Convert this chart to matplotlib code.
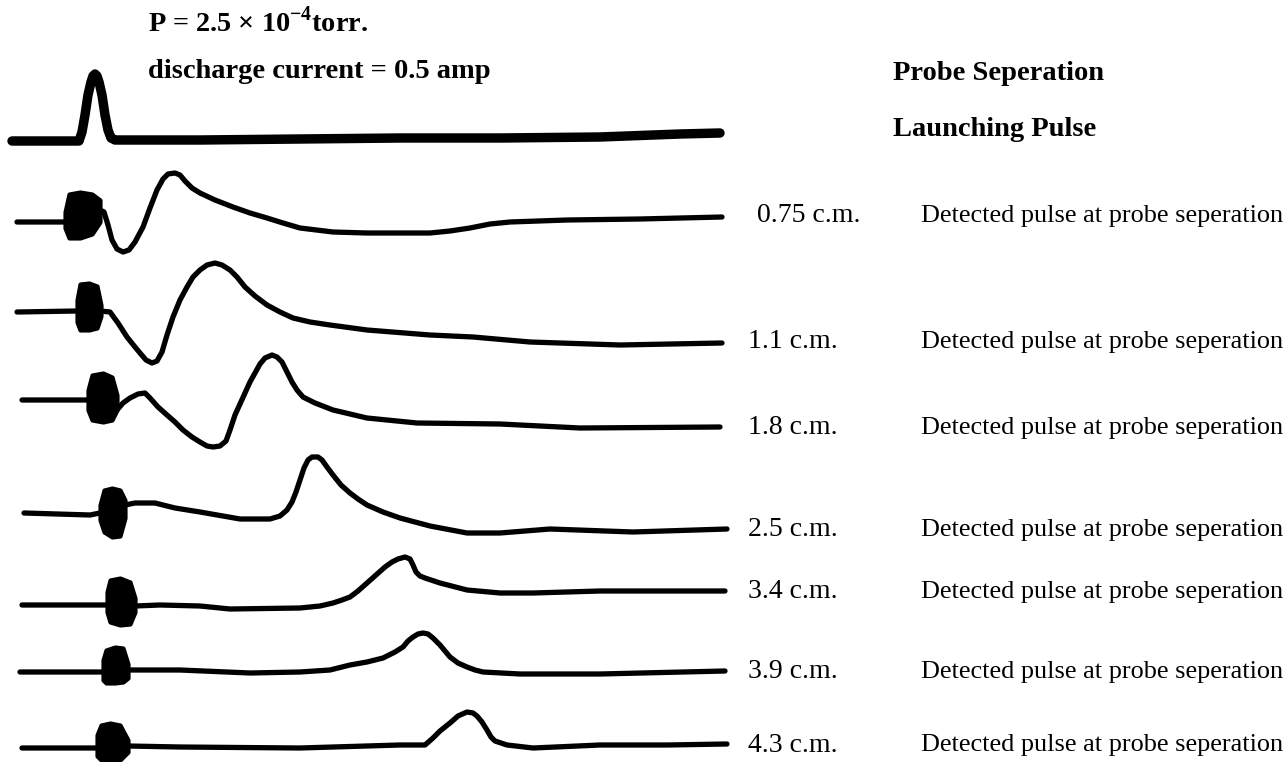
import matplotlib
matplotlib.use('Agg')
import matplotlib.pyplot as plt

plt.rcParams['font.family'] = ['Liberation Serif', 'DejaVu Serif']
plt.rcParams['mathtext.fontset'] = 'custom'
plt.rcParams['mathtext.rm'] = 'Liberation Serif'
plt.rcParams['mathtext.bf'] = 'Liberation Serif:bold'

# probe separations (c.m.) for the detected pulses, top to bottom
sep_labels = ['0.75 c.m.', '1.1 c.m.', '1.8 c.m.', '2.5 c.m.', '3.4 c.m.', '3.9 c.m.', '4.3 c.m.']
label_y = [216, 342, 428, 530, 592, 672, 745]

# launching pulse trace (time axis in screen units, amplitude)
launch_x = [12, 79, 82, 85, 88, 91, 93, 95, 97, 99, 102, 105, 108, 111, 115, 200, 300, 400,
            500, 600, 680, 720]
launch_y = [141, 141, 132, 115, 95, 82, 76, 74, 76, 82, 95, 115, 130, 138, 140, 140, 139, 138,
            138, 137, 134, 133]

# detected pulses
t075_x = [17, 65, 100, 104, 108, 112, 117, 123, 129, 135, 143, 150, 157, 163, 168, 175, 180,
          185, 192, 200, 215, 233, 250, 267, 283, 300, 333, 367, 400, 430, 450, 470, 490, 510,
          567, 640, 722]
t075_y = [222, 222, 210, 212, 225, 240, 249, 252, 250, 242, 227, 208, 190, 179, 174, 173, 175,
          181, 188, 193, 200, 207, 213, 218, 223, 228, 232, 233, 233, 233, 231, 228, 224, 222,
          220, 219, 217]

t11_x = [17, 77, 100, 110, 118, 127, 135, 140, 146, 152, 157, 162, 167, 173, 180, 187, 193,
         200, 207, 215, 222, 230, 237, 245, 255, 267, 280, 293, 310, 330, 367, 430, 473, 530,
         620, 722]
t11_y = [312, 311, 311, 312, 323, 337, 347, 353, 360, 363, 361, 352, 335, 317, 300, 287, 277,
         270, 265, 263, 265, 270, 277, 287, 296, 305, 312, 318, 322, 325, 330, 335, 337, 342,
         345, 343]

t18_x = [22, 88, 117, 123, 130, 138, 145, 150, 158, 167, 175, 183, 192, 200, 207, 213, 220,
         226, 230, 235, 240, 245, 250, 255, 260, 265, 272, 277, 282, 287, 292, 297, 303, 315,
         333, 367, 417, 500, 580, 720]
t18_y = [400, 400, 410, 403, 398, 394, 393, 398, 407, 415, 422, 430, 437, 442, 446, 447, 446,
         441, 430, 415, 404, 393, 382, 373, 364, 358, 355, 357, 362, 372, 382, 390, 397, 403,
         410, 418, 423, 424, 428, 427]

t25_x = [24, 90, 100, 125, 135, 155, 175, 200, 240, 270, 280, 287, 292, 296, 300, 304, 308,
         312, 318, 322, 327, 333, 341, 350, 358, 367, 383, 400, 430, 467, 500, 550, 633, 727]
t25_y = [513, 515, 513, 505, 503, 503, 508, 512, 519, 519, 516, 510, 502, 492, 480, 468, 460,
         457, 457, 460, 467, 475, 485, 493, 499, 505, 512, 518, 526, 533, 533, 529, 532, 529]

t34_x = [22, 107, 135, 160, 200, 230, 300, 320, 333, 342, 350, 358, 367, 376, 385, 392, 398,
         405, 410, 413, 416, 420, 425, 440, 467, 500, 533, 600, 725]
t34_y = [605, 605, 606, 605, 606, 609, 608, 606, 603, 600, 597, 591, 583, 575, 567, 562, 559,
         557, 559, 565, 572, 576, 578, 583, 590, 593, 593, 591, 591]

t39_x = [20, 103, 128, 180, 250, 300, 330, 350, 367, 383, 395, 403, 408, 413, 418, 423, 428,
         433, 440, 445, 450, 458, 467, 475, 483, 520, 600, 725]
t39_y = [672, 672, 670, 670, 673, 672, 670, 665, 662, 658, 652, 647, 641, 637, 634, 633, 634,
         638, 645, 651, 657, 663, 667, 670, 672, 674, 674, 671]

t43_x = [22, 97, 128, 180, 300, 400, 425, 433, 440, 450, 458, 467, 473, 477, 482, 487, 491,
         495, 507, 533, 600, 667, 727]
t43_y = [748, 748, 746, 747, 748, 745, 745, 738, 731, 723, 716, 712, 713, 716, 722, 730, 737,
         741, 745, 748, 745, 745, 744]

# ringing bursts at the start of each detected pulse: x, upper and lower envelope
burst_x = [[65, 69, 80, 92, 100], [77, 80, 89, 97, 101], [88, 92, 103, 112, 117],
           [100, 104, 112, 120, 125], [107, 110, 120, 130, 135], [103, 106, 115, 123, 128],
           [97, 101, 110, 120, 128]]
burst_top = [[212, 194, 192, 194, 200], [300, 284, 283, 286, 305], [390, 375, 373, 377, 395],
             [505, 490, 488, 490, 500], [592, 580, 578, 582, 598], [660, 650, 647, 648, 664],
             [735, 725, 723, 725, 740]]
burst_bot = [[228, 238, 238, 234, 222], [322, 330, 330, 328, 316], [410, 420, 422, 420, 410],
             [520, 532, 537, 536, 518], [612, 622, 625, 624, 612], [680, 683, 683, 682, 678],
             [756, 760, 760, 760, 752]]

traces_x = [t075_x, t11_x, t18_x, t25_x, t34_x, t39_x, t43_x]
traces_y = [t075_y, t11_y, t18_y, t25_y, t34_y, t39_y, t43_y]

fig = plt.figure(figsize=(12.86, 7.62), dpi=100)
ax = fig.add_axes([0, 0, 1, 1])
ax.set_xlim(0, 1286)
ax.set_ylim(762, 0)
ax.axis('off')

ax.plot(launch_x, launch_y, color='black', lw=6.8, solid_joinstyle='round', solid_capstyle='round')

for xs, ys in zip(traces_x, traces_y):
    ax.plot(xs, ys, color='black', lw=3.8, solid_joinstyle='round', solid_capstyle='round')

for bx, bt, bb in zip(burst_x, burst_top, burst_bot):
    ax.fill_between(bx, bt, bb, color='black', lw=3, edgecolor='black')

# header text
ax.text(148, 22, 'P = 2.5 \u00d7 10$^{\\mathbf{-4}}$torr.', fontsize=20.3, fontweight='bold',
        va='center', ha='left')
ax.text(148, 72, 'discharge current = 0.5 amp', fontsize=20.5, fontweight='bold',
        va='center', ha='left')
ax.text(893, 73, 'Probe Seperation', fontsize=20.5, fontweight='bold', va='center', ha='left')
ax.text(893, 130, 'Launching Pulse', fontsize=20.5, fontweight='bold', va='center', ha='left')

for i, (lab, ly) in enumerate(zip(sep_labels, label_y)):
    ax.text(757 if i == 0 else 748, ly, lab, fontsize=20, va='center', ha='left')
    ax.text(921, ly, 'Detected pulse at probe seperation', fontsize=18.9, va='center', ha='left')

fig.savefig('out.png', dpi=100, facecolor='white')
